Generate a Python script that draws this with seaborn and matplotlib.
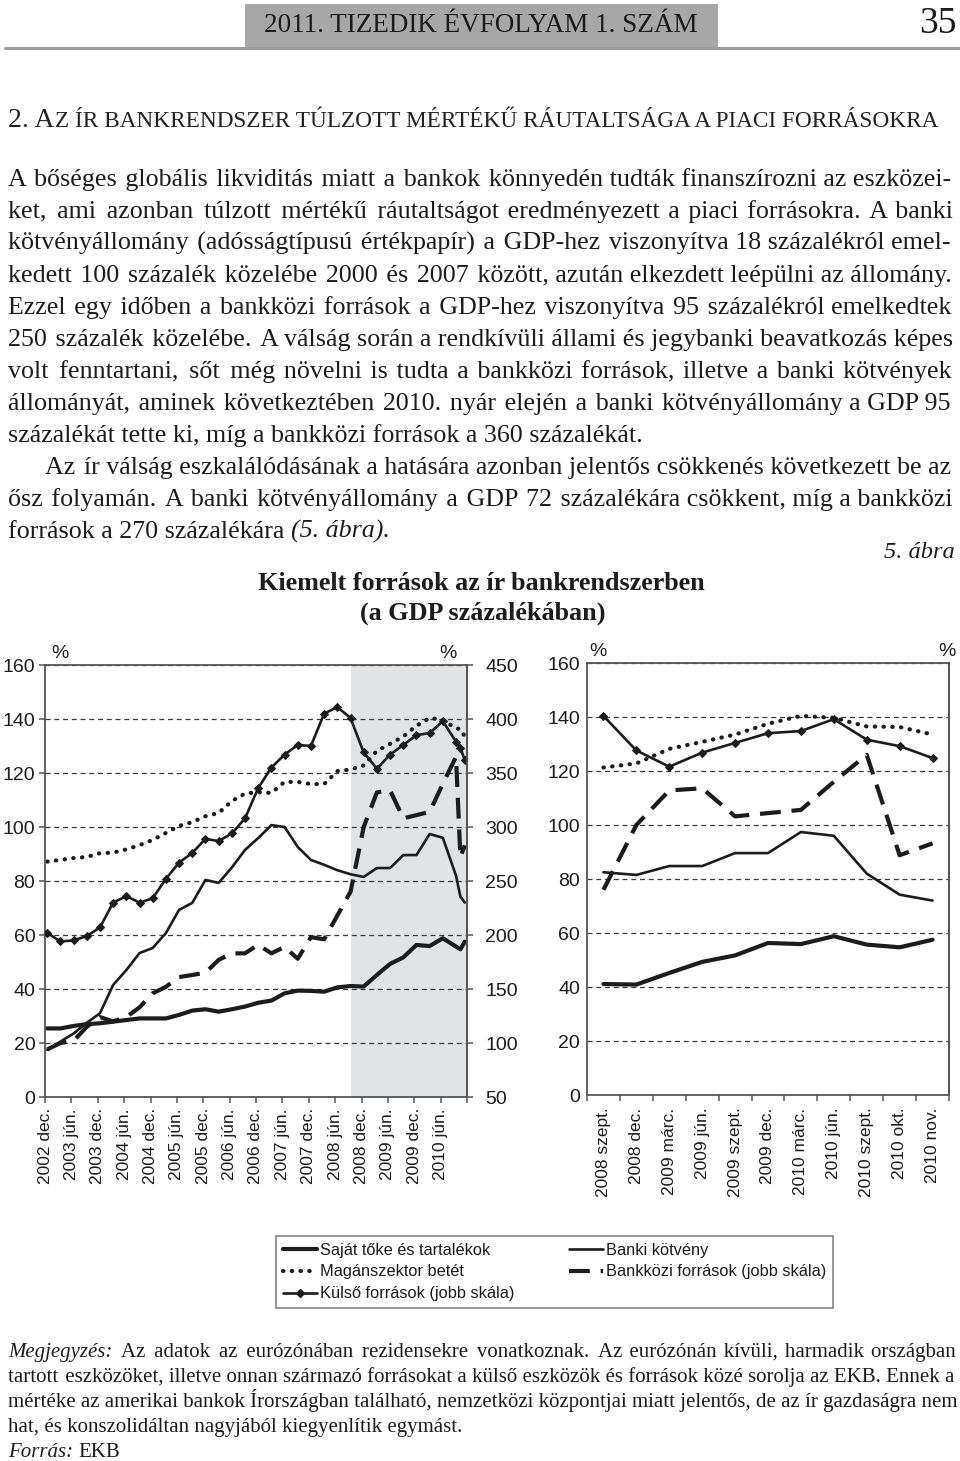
import numpy as np
import pandas as pd
import matplotlib
matplotlib.use("Agg")
import matplotlib.pyplot as plt
import seaborn as sns
from matplotlib.lines import Line2D
from matplotlib.patches import Rectangle
from matplotlib.font_manager import FontProperties


# -----------------------------
# DATA (left chart: quarterly, % of GDP)
# -----------------------------
periods = ["2002-12", "2003-03", "2003-06", "2003-09", "2003-12", "2004-03", "2004-06", "2004-09",
           "2004-12", "2005-03", "2005-06", "2005-09", "2005-12", "2006-03", "2006-06", "2006-09",
           "2006-12", "2007-03", "2007-06", "2007-09", "2007-12", "2008-03", "2008-06", "2008-09",
           "2008-12", "2009-03", "2009-06", "2009-09", "2009-12", "2010-03", "2010-06", "2010-09",
           "2010-10", "2010-11"]

left_tick_labels = ["2002 dec.", "2003 jún.", "2003 dec.", "2004 jún.", "2004 dec.", "2005 jún.",
                    "2005 dec.", "2006 jún.", "2006 dec.", "2007 jún.", "2007 dec.", "2008 jún.",
                    "2008 dec.", "2009 jún.", "2009 dec.", "2010 jún."]

right_tick_labels = ["2008 szept.", "2008 dec.", "2009 márc.", "2009 jún.", "2009 szept.", "2009 dec.",
                     "2010 márc.", "2010 jún.", "2010 szept.", "2010 okt.", "2010 nov."]

# left scale
sajat = [25.4, 25.4, 26.3, 27.0, 27.3, 27.9, 28.5, 29.1, 29.1, 29.1, 30.4, 32.0, 32.5, 31.6, 32.5, 33.5,
         34.9, 35.7, 38.4, 39.4, 39.3, 39.0, 40.6, 41.1, 40.9, 45.2, 49.3, 51.7, 56.3, 55.9, 58.8, 55.7,
         54.7, 57.5]
banki = [17.5, 20.5, 23.5, 27.5, 31.0, 41.5, 47.0, 53.3, 55.2, 60.7, 69.3, 71.9, 80.4, 79.3, 85.0, 91.5,
         95.9, 100.7, 100.0, 92.6, 87.8, 86.0, 84.0, 82.5, 81.5, 84.8, 84.8, 89.6, 89.6, 97.4, 96.0, 82.0,
         74.2, 72.0]
magan = [87.2, 87.8, 88.5, 88.9, 90.3, 90.5, 91.7, 93.3, 95.2, 97.8, 100.4, 101.8, 104.0, 105.2, 109.6, 112.4,
         112.9, 112.6, 116.7, 116.7, 115.9, 115.9, 120.7, 121.3, 122.8, 128.2, 130.8, 133.5, 137.5, 140.4,
         139.7, 136.5, 136.3, 133.5]
# right scale
kulso = [202, 194, 195, 199, 207, 230, 236, 230, 234, 252, 267, 276, 289, 287, 294, 308, 336, 355, 367, 376,
         375, 405, 411, 401, 369, 354, 367, 376, 385, 387, 398, 379, 373, 362]
bankkozi = [94, 100, 102, 115, 124, 120, 124, 133, 146, 152, 161, 163, 165, 177, 183, 183, 191, 183, 189, 178,
            198, 196, 218, 240, 300, 332, 334, 308, 311, 314, 340, 365, 272, 283]

legend_labels = ["Saját tőke és tartalékok", "Magánszektor betét", "Külső források (jobb skála)",
                 "Banki kötvény", "Bankközi források (jobb skála)"]

# -----------------------------
# STYLE
# -----------------------------
sns.set_theme(style="white")
plt.rcParams['font.family'] = ['Liberation Sans', 'DejaVu Sans']

INK = "#1c1c1c"
SERIF = ["Liberation Serif", "DejaVu Serif"]
HAIR = "\u200a"
styles = {
    "sajat": dict(color=INK, linewidth=3.0, linestyle="-"),
    "magan": dict(color=INK, linewidth=3.0, linestyle=(0, (0.1, 2.0)), dash_capstyle="round"),
    "kulso": dict(color=INK, linewidth=1.9, linestyle="-", marker="D", markersize=4.2,
                  markeredgecolor=INK, markerfacecolor=INK),
    "banki": dict(color=INK, linewidth=1.9, linestyle="-"),
    "bankkozi": dict(color=INK, linewidth=3.0, linestyle=(0, (5, 2.6))),
}

W, H = 960, 1461
fig = plt.figure(figsize=(W / 100, H / 100), dpi=100)
renderer = fig.canvas.get_renderer()


def fx(x):
    return x / W


def fy(y):
    return 1 - y / H


def rect(x0, y0, x1, y1):
    return [fx(x0), fy(y1), (x1 - x0) / W, (y1 - y0) / H]


def str_w(s, size, style="normal", weight="normal"):
    fp = FontProperties(family=SERIF, size=size, style=style, weight=weight)
    return renderer.get_text_width_height_descent(s, fp, ismath=False)[0]


def split_runs(line):
    toks = [(w[1:], "italic") if w.startswith("§") else (w, "normal") for w in line.split(" ")]
    runs = []
    for w, st in toks:
        if runs and runs[-1][1] == st:
            runs[-1][0].append(w)
        else:
            runs.append(([w], st))
    return toks, runs


def natural_width(line, size):
    toks, runs = split_runs(line)
    space = str_w("n n", size) - str_w("nn", size)
    return sum(str_w(" ".join(ws), size, st) for ws, st in runs) + space * (len(runs) - 1)


def put_line(line, y, x0, x1, size, justify=True):
    # justified line: widen the spaces with hair spaces, one text per style run
    toks, runs = split_runs(line)
    space = str_w("n n", size) - str_w("nn", size)
    hair = str_w("n" + HAIR + "n", size) - str_w("nn", size)
    n_gaps = max(len(toks) - 1, 1)
    extra = (x1 - x0 - natural_width(line, size)) if justify else 0
    k_total = max(int(round(extra / hair)), 0) if hair > 0 else 0
    per_gap = [k_total // n_gaps + (1 if i < k_total % n_gaps else 0) for i in range(n_gaps)]
    x = x0
    gi = 0
    for ri, (ws, st) in enumerate(runs):
        s = ws[0]
        for w in ws[1:]:
            s += " " + HAIR * per_gap[gi] + w
            gi += 1
        fig.text(fx(x), fy(y), s, ha="left", va="baseline", family=SERIF, style=st,
                 size=size, color=INK)
        if ri < len(runs) - 1:
            x += str_w(s, size, st) + space + hair * per_gap[gi]
            gi += 1


def fit_size(lines, x0s, x1, base=16.0):
    ratios = [(x1 - x0) / natural_width(l, base) for (l, j), x0 in zip(lines, x0s) if j]
    return base * min(ratios) * 0.995


# -----------------------------
# PAGE HEADER
# -----------------------------
fig.add_artist(Rectangle((fx(245), fy(48)), (718 - 245) / W, 44 / H, transform=fig.transFigure,
                         facecolor="#a7a7a7", edgecolor="none"))
fig.add_artist(Line2D([fx(5), fx(960)], [fy(48), fy(48)], transform=fig.transFigure,
                      color="#9c9c9c", linewidth=2.2))
fig.text(fx(481), fy(26), "2011. TIZEDIK ÉVFOLYAM 1. SZÁM", ha="center", va="center",
         family=SERIF, size=19.5, color="#1a1a1a")
fig.text(fx(957), fy(24), "35", ha="right", va="center", family=SERIF, size=27, color="#1a1a1a")

# section heading (small caps look)
w_first = str_w("2. A", 20)
rest = "Z ÍR BANKRENDSZER TÚLZOTT MÉRTÉKŰ RÁUTALTSÁGA A PIACI FORRÁSOKRA"
rest_size = 15 * (940 - 8 - w_first - 1) / str_w(rest, 15)
fig.text(fx(8), fy(127), "2. A", ha="left", va="baseline", family=SERIF, size=20, color="#222222")
fig.text(fx(8 + w_first + 1), fy(127), rest, ha="left", va="baseline", family=SERIF,
         size=rest_size, color="#222222")

# -----------------------------
# BODY TEXT
# -----------------------------
body = [
    ("A bőséges globális likviditás miatt a bankok könnyedén tudták finanszírozni az eszközei-", True),
    ("ket, ami azonban túlzott mértékű ráutaltságot eredményezett a piaci forrásokra. A banki", True),
    ("kötvényállomány (adósságtípusú értékpapír) a GDP-hez viszonyítva 18 százalékról emel-", True),
    ("kedett 100 százalék közelébe 2000 és 2007 között, azután elkezdett leépülni az állomány.", True),
    ("Ezzel egy időben a bankközi források a GDP-hez viszonyítva 95 százalékról emelkedtek", True),
    ("250 százalék közelébe. A válság során a rendkívüli állami és jegybanki beavatkozás képes", True),
    ("volt fenntartani, sőt még növelni is tudta a bankközi források, illetve a banki kötvények", True),
    ("állományát, aminek következtében 2010. nyár elején a banki kötvényállomány a GDP 95", True),
    ("százalékát tette ki, míg a bankközi források a 360 százalékát.", False),
    ("Az ír válság eszkalálódásának a hatására azonban jelentős csökkenés következett be az", True),
    ("ősz folyamán. A banki kötvényállomány a GDP 72 százalékára csökkent, míg a bankközi", True),
    ("források a 270 százalékára §(5. §ábra).", False),
]
body_x0 = [8] * 9 + [45] + [8, 8]
body_size = fit_size(body, body_x0, 951)
for i, ((line, just), x0) in enumerate(zip(body, body_x0)):
    put_line(line, 186 + 32 * i, x0, 951, body_size, just)

# figure caption
fig.text(fx(955), fy(558), "5. ábra", ha="right", va="baseline", family=SERIF, style="italic",
         size=body_size * 0.94, color=INK)
fig.text(fx(481), fy(590), "Kiemelt források az ír bankrendszerben", ha="center", va="baseline",
         family=SERIF, weight="bold", size=18.8, color=INK)
fig.text(fx(483), fy(620), "(a GDP százalékában)", ha="center", va="baseline",
         family=SERIF, weight="bold", size=18.8, color=INK)

# -----------------------------
# X POSITIONS
# -----------------------------
dt = pd.to_datetime(periods)
xpos = np.asarray((dt.year - 2002) * 12 + dt.month - 12, dtype=float) + 0.5
shade_from = xpos[periods.index("2008-09")]
n_right = len(right_tick_labels)
xr = np.arange(n_right) + 0.5


def style_axes(a, a2):
    a.set_ylim(0, 160)
    a.set_yticks(np.arange(0, 161, 20))
    a2.set_ylim(50, 450)
    a2.set_yticks(np.arange(50, 451, 50))
    a.yaxis.grid(True, linestyle=(0, (4, 3)), color="#3a3a3a", linewidth=0.9)
    a.xaxis.grid(False)
    a2.grid(False)
    a.set_axisbelow(True)
    for sp in ["left", "right", "bottom", "top"]:
        a.spines[sp].set_visible(True)
        a.spines[sp].set_color("#555555")
        a.spines[sp].set_linewidth(1.3)
    for sp in a2.spines.values():
        sp.set_visible(False)
    a2.spines["right"].set_visible(True)
    a2.spines["right"].set_color("#555555")
    a2.spines["right"].set_linewidth(1.3)
    a.set_xlabel("")
    a.set_ylabel("")
    a2.set_ylabel("")


# -----------------------------
# LEFT CHART
# -----------------------------
ax = fig.add_axes(rect(45, 665, 467, 1097))
ax2 = ax.twinx()
ax.axvspan(shade_from, 96, color="#e2e3e5", linewidth=0, zorder=0)

sns.lineplot(x=xpos, y=np.array(sajat), ax=ax, errorbar=None, **styles["sajat"])
sns.lineplot(x=xpos, y=np.array(banki), ax=ax, errorbar=None, **styles["banki"])
sns.lineplot(x=xpos, y=np.array(magan), ax=ax, errorbar=None, **styles["magan"])
sns.lineplot(x=xpos, y=np.array(bankkozi), ax=ax2, errorbar=None, **styles["bankkozi"])
sns.lineplot(x=xpos, y=np.array(kulso), ax=ax2, errorbar=None, **styles["kulso"])

ax.set_xlim(0, 96)
style_axes(ax, ax2)
ax.set_xticks(np.arange(0, 97, 6))
ax.set_xticklabels(left_tick_labels + [""], rotation=90, fontsize=12.5, color=INK)
ax.tick_params(axis="x", bottom=True, direction="out", length=4, width=1.1, color="#555555", pad=4)
ax.tick_params(axis="y", left=True, direction="out", length=4, width=1.1, color="#555555",
               labelsize=14, labelcolor=INK, pad=3)
ax2.tick_params(axis="y", right=True, direction="out", length=4, width=1.1, color="#555555",
                labelsize=14, labelcolor=INK, pad=9)
fig.text(fx(60), fy(653), "%", ha="center", va="center", size=14, color=INK)
fig.text(fx(448), fy(653), "%", ha="center", va="center", size=14, color=INK)

# -----------------------------
# RIGHT CHART
# -----------------------------
axr = fig.add_axes(rect(587, 663, 949, 1095))
axr2 = axr.twinx()
sns.lineplot(x=xr, y=np.array(sajat[-n_right:]), ax=axr, errorbar=None, **styles["sajat"])
sns.lineplot(x=xr, y=np.array(banki[-n_right:]), ax=axr, errorbar=None, **styles["banki"])
sns.lineplot(x=xr, y=np.array(magan[-n_right:]), ax=axr, errorbar=None, **styles["magan"])
sns.lineplot(x=xr, y=np.array(bankkozi[-n_right:]), ax=axr2, errorbar=None, **styles["bankkozi"])
sns.lineplot(x=xr, y=np.array(kulso[-n_right:]), ax=axr2, errorbar=None, **styles["kulso"])

axr.set_xlim(0, n_right)
style_axes(axr, axr2)
axr.set_xticks(xr)
axr.set_xticklabels(right_tick_labels, rotation=90, fontsize=12.5, color=INK)
axr.set_xticks(np.arange(0, n_right + 1), minor=True)
axr.tick_params(axis="x", which="major", bottom=True, length=0, pad=9)
axr.tick_params(axis="x", which="minor", bottom=True, direction="out", length=4, width=1.1,
                color="#555555")
axr.tick_params(axis="y", left=True, length=0, labelsize=14, labelcolor=INK, pad=5)
axr2.tick_params(axis="y", right=False, labelright=False, length=0)
fig.text(fx(598), fy(651), "%", ha="center", va="center", size=14, color=INK)
fig.text(fx(947), fy(651), "%", ha="center", va="center", size=14, color=INK)

# -----------------------------
# LEGEND
# -----------------------------
order = ["sajat", "magan", "kulso", "banki", "bankkozi"]
handles = [Line2D([0], [0], **styles[k]) for k in order]
leg = fig.legend(handles, legend_labels, ncol=2, loc="upper left",
                 bbox_to_anchor=(fx(276), fy(1236)), frameon=True, fancybox=False,
                 edgecolor="#666666", prop=FontProperties(family="Liberation Sans", size=11.8),
                 handlelength=2.1, handletextpad=0.2, columnspacing=3.3, borderpad=0.4,
                 labelspacing=0.42, borderaxespad=0, numpoints=1)
leg.get_frame().set_linewidth(1.2)
for t in leg.get_texts():
    t.set_color(INK)

# -----------------------------
# NOTES
# -----------------------------
notes = [
    ("§Megjegyzés: Az adatok az eurózónában rezidensekre vonatkoznak. Az eurózónán kívüli, harmadik országban", True),
    ("tartott eszközöket, illetve onnan származó forrásokat a külső eszközök és források közé sorolja az EKB. Ennek a", True),
    ("mértéke az amerikai bankok Írországban található, nemzetközi központjai miatt jelentős, de az ír gazdaságra nem", True),
    ("hat, és konszolidáltan nagyjából kiegyenlítik egymást.", False),
    ("§Forrás: EKB", False),
]
note_size = fit_size(notes, [8] * len(notes), 955, base=13.0)
for i, (line, just) in enumerate(notes):
    put_line(line, 1357 + 25 * i, 8, 955, note_size, just)

fig.savefig("out.png", dpi=100)
